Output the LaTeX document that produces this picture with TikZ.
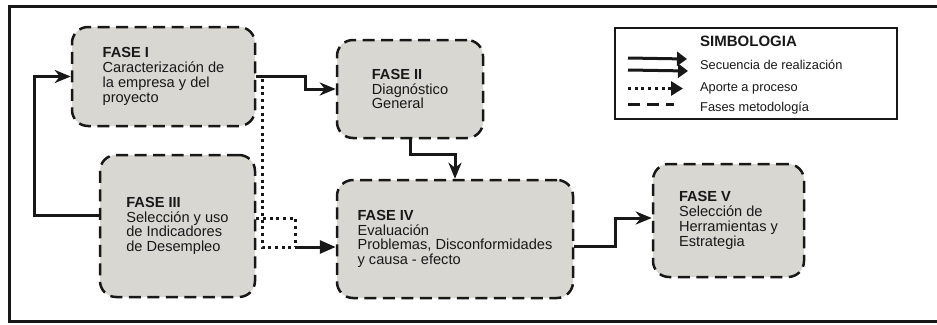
\documentclass[tikz,border=0pt]{standalone}
\usepackage{fontspec}
\setmainfont{Liberation Sans}
\usetikzlibrary{arrows.meta}
\definecolor{boxfill}{RGB}{216,215,210}
\definecolor{ink}{RGB}{24,24,24}
\begin{document}
\begin{tikzpicture}[x=1pt,y=-1pt,
  phase/.style={draw=ink, fill=boxfill, line width=2.5pt,
    dash pattern=on 12pt off 6.5pt, rounded corners=16pt,
    align=left, inner sep=0pt, text=ink,
    font=\fontsize{14.6pt}{14.8pt}\selectfont},
  flow/.style={draw=ink, line width=3pt,
    -{Stealth[length=16pt,width=13pt,inset=5pt]}},
  feed/.style={draw=ink, line width=3pt, dash pattern=on 3pt off 3.7pt},
  feedtip/.style={draw=ink, line width=3pt,
    -{Triangle[length=16pt,width=13pt]}},
  legtext/.style={anchor=base west, inner sep=0pt, text=ink,
    font=\fontsize{12.8pt}{14pt}\selectfont},
]
\useasboundingbox (0,0) rectangle (937,324);
\fill[white] (0,0) rectangle (937,324);

% open outer frame
\draw[ink, line width=3pt] (937,6.5) -- (9.5,6.5) -- (9.5,321) -- (937,321);

% phases
\node[phase, minimum width=183pt, minimum height=99pt] (f1) at (163.5,76.5)
  {\textbf{FASE I}\\Caracterización de\\la empresa y del\\proyecto};
\node[phase, minimum width=146pt, minimum height=98pt] (f2) at (410,89)
  {\textbf{FASE II}\\Diagnóstico\\General};
\node[phase, minimum width=155pt, minimum height=142pt] (f3) at (177.5,226)
  {\textbf{FASE III}\\Selección y uso\\de Indicadores\\de Desempleo};
\node[phase, minimum width=236pt, minimum height=118pt] (f4) at (455,239)
  {\textbf{FASE IV}\\Evaluación\\Problemas, Disconformidades\\y causa - efecto};
\node[phase, minimum width=151pt, minimum height=113pt] (f5) at (728.5,220.5)
  {\textbf{FASE V}\\Selección de\\Herramientas y\\Estrategia};

% sequence of execution
\draw[flow] ([yshift=11pt]f3.west) -| ([xshift=-36pt]f1.west) -- (f1.west);
\draw[flow] (f1.east) -| (305,83) |- (f2.west);
\draw[flow] (f2.south) |- (432,154) -| (f4.north);
\draw[flow] ([yshift=-7pt]f4.east) -| (615,232) |- ([yshift=2.5pt]f5.west);

% contributions to the process
\coordinate (tap) at (262,79);
\coordinate (merge) at (295,247);
\draw[feed] (tap) |- (merge);
\draw[feed] ([yshift=8pt]f3.east) -| (merge);
\draw[feedtip] (merge) -- ([yshift=-8pt]f4.west);

% legend
\node[draw=ink, line width=2pt, minimum width=282pt, minimum height=91pt,
  inner sep=0pt] (leg) at (756,73.5) {};
\node[anchor=base west, inner sep=0pt, text=ink,
  font=\bfseries\fontsize{15pt}{16pt}\selectfont] (lt) at (700,46.5) {SIMBOLOGIA};
\node[legtext] (l1) at (700,69) {Secuencia de realización};
\node[legtext] (l2) at (700,91.5) {Aporte a proceso};
\node[legtext] (l3) at (700,111.5) {Fases metodología};
\draw[ink, line width=3pt, -{Triangle[length=10pt,width=14pt]}] (628,58) -- (687,59);
\draw[ink, line width=3pt, -{Triangle[length=10pt,width=14pt]}] (628,70) -- (688,71);
\draw[ink, line width=3pt, dash pattern=on 3pt off 3.7pt] (628,88.5) -- (671,88.5);
\draw[ink, line width=3pt, -{Triangle[length=12pt,width=14pt]}] (670,88.5) -- (683,88.5);
\draw[ink, line width=3pt, dash pattern=on 12pt off 7pt] (628,104) -- (674,104);
\end{tikzpicture}
\end{document}
